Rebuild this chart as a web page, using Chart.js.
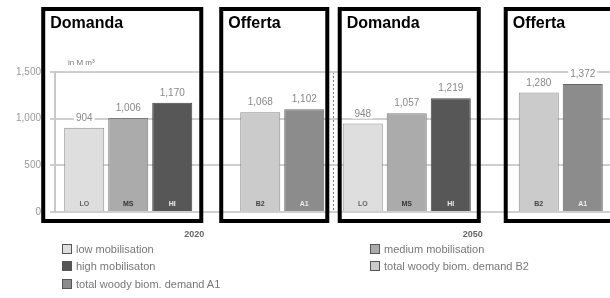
<!DOCTYPE html>
<html>
<head>
<meta charset="utf-8">
<script src="https://cdn.jsdelivr.net/npm/chart.js@4.4.1/dist/chart.umd.min.js"></script>
<style>
    html, body { margin: 0; padding: 0; background: #fff; overflow: hidden; }
    #wrap { position: relative; width: 620px; height: 298px; }
    #legend {
        position: absolute; left: 62px; top: 240px;
        display: grid; grid-template-columns: 308px auto;
        font: 11px "Liberation Sans", Arial, sans-serif; color: #777;
    }
    #legend div { height: 17.5px; display: flex; align-items: center; white-space: nowrap; }
    #legend span { display: inline-block; width: 8px; height: 8px; border: 1px solid #555; margin-right: 4px; }
</style>
</head>
<body>
<div id="wrap">
    <canvas id="grafica" width="620" height="298"></canvas>
    <div id="legend"></div>
</div>
<script>
const anni = ['2020', '2050'];
const bassa = [904, 948];
const media = [1006, 1057];
const alta = [1170, 1219];
const domandaB2 = [1068, 1280];
const domandaA1 = [1102, 1372];
const tickY = [0, 500, 1000, 1500];

const serie = [
    { label: 'low mobilisation', sigla: 'LO', data: bassa, color: '#dedede', border: '#8a8a8a', txt: '#666' },
    { label: 'medium mobilisation', sigla: 'MS', data: media, color: '#ababab', border: '#7a7a7a', txt: '#333' },
    { label: 'high mobilisaton', sigla: 'HI', data: alta, color: '#575757', border: '#444', txt: '#eee' },
    { label: '', sigla: '', data: [null, null], color: '#fff', border: '#fff', txt: '#fff' },
    { label: 'total woody biom. demand B2', sigla: 'B2', data: domandaB2, color: '#cbcbcb', border: '#8a8a8a', txt: '#444' },
    { label: 'total woody biom. demand A1', sigla: 'A1', data: domandaA1, color: '#8c8c8c', border: '#666', txt: '#eee' }
];

// riquadri disegnati sopra il grafico
const riquadri = [
    { testo: 'Domanda', cat: 0, da: 0, a: 2, padL: 21, padR: 9 },
    { testo: 'Offerta', cat: 0, da: 4, a: 5, padL: 19, padR: 3 },
    { testo: 'Domanda', cat: 1, da: 0, a: 2, padL: 3, padR: 8 },
    { testo: 'Offerta', cat: 1, da: 4, a: 5, padL: 13, padR: 20 }
];

const etichette = {
    id: 'etichette',
    afterDatasetsDraw(chart){
        const ctx = chart.ctx;
        const area = chart.chartArea;
        ctx.save();
        chart.data.datasets.forEach(function(ds, i){
            const meta = chart.getDatasetMeta(i);
            meta.data.forEach(function(bar, j){
                const v = ds.data[j];
                if(v == null) return;
                // valore sopra la barra
                ctx.font = '10px "Liberation Sans", Arial, sans-serif';
                const t = v.toLocaleString('en-US');
                const w = ctx.measureText(t).width;
                ctx.fillStyle = '#fff';
                ctx.fillRect(bar.x - w / 2 - 2, bar.y - 17, w + 4, 12);
                ctx.fillStyle = '#888';
                ctx.textAlign = 'center';
                ctx.textBaseline = 'alphabetic';
                ctx.fillText(t, bar.x, bar.y - 7);
                // sigla in fondo alla barra
                ctx.font = 'bold 7px "Liberation Sans", Arial, sans-serif';
                ctx.fillStyle = serie[i].txt;
                ctx.fillText(serie[i].sigla, bar.x, area.bottom - 6);
            });
        });
        ctx.font = '8px "Liberation Sans", Arial, sans-serif';
        ctx.fillStyle = '#777';
        ctx.textAlign = 'left';
        ctx.fillText('in M m\u00b3', area.left + 13, area.top - 7);
        ctx.restore();
    },
    afterDraw(chart){
        const ctx = chart.ctx;
        ctx.save();
        ctx.lineWidth = 4;
        ctx.strokeStyle = '#000';
        riquadri.forEach(function(r){
            const b1 = chart.getDatasetMeta(r.da).data[r.cat];
            const b2 = chart.getDatasetMeta(r.a).data[r.cat];
            const x1 = b1.x - b1.width / 2 - r.padL;
            const x2 = b2.x + b2.width / 2 + r.padR;
            ctx.strokeRect(x1, 9, x2 - x1, 212);
            ctx.fillStyle = '#000';
            ctx.font = 'bold 16px "Liberation Sans", Arial, sans-serif';
            ctx.textAlign = 'left';
            ctx.fillText(r.testo, x1 + 7, 28);
        });
        ctx.restore();
    }
};

const grafica = new Chart(document.getElementById('grafica'), {
    type: 'bar',
    data: {
        labels: anni,
        datasets: serie.map(function(s){
            return {
                label: s.label,
                data: s.data,
                backgroundColor: s.color,
                borderColor: s.border,
                borderWidth: 1,
                categoryPercentage: 0.948,
                barPercentage: 0.91
            };
        })
    },
    options: {
        responsive: false,
        animation: false,
        layout: { padding: { top: 72, right: 8, bottom: 56, left: 0 } },
        plugins: { legend: { display: false }, tooltip: { enabled: false } },
        scales: {
            x: {
                grid: { color: '#777', lineWidth: 1, drawTicks: false },
                border: { display: false, dash: [2, 2] },
                ticks: {
                    padding: 17,
                    color: '#666',
                    font: { family: '"Liberation Sans", Arial, sans-serif', size: 9, weight: 'bold' }
                },
                afterFit(scale){ scale.height = 30; }
            },
            y: {
                min: 0,
                max: 1500,
                afterBuildTicks(scale){ scale.ticks = tickY.map(function(v){ return { value: v }; }); },
                ticks: {
                    padding: 9,
                    color: '#999',
                    font: { family: '"Liberation Sans", Arial, sans-serif', size: 10 },
                    callback: function(v){ return v.toLocaleString('en-US'); }
                },
                grid: { color: '#cfcfcf', lineWidth: 2, tickLength: 5 },
                border: { color: '#c8c8c8', width: 2 },
                afterFit(scale){ scale.width = 55; }
            }
        }
    },
    plugins: [etichette]
});

// griglia tratteggiata verticale fra i due anni
grafica.options.scales.x.grid.borderDash = [2, 2];
grafica.options.scales.x.border.dash = [2, 2];
grafica.update();

// legenda a due colonne
const legend = document.getElementById('legend');
serie.forEach(function(s){
    if(!s.label) return;
    const d = document.createElement('div');
    d.innerHTML = '<span style="background:' + s.color + '"></span>' + s.label;
    legend.appendChild(d);
});
</script>
</body>
</html>
